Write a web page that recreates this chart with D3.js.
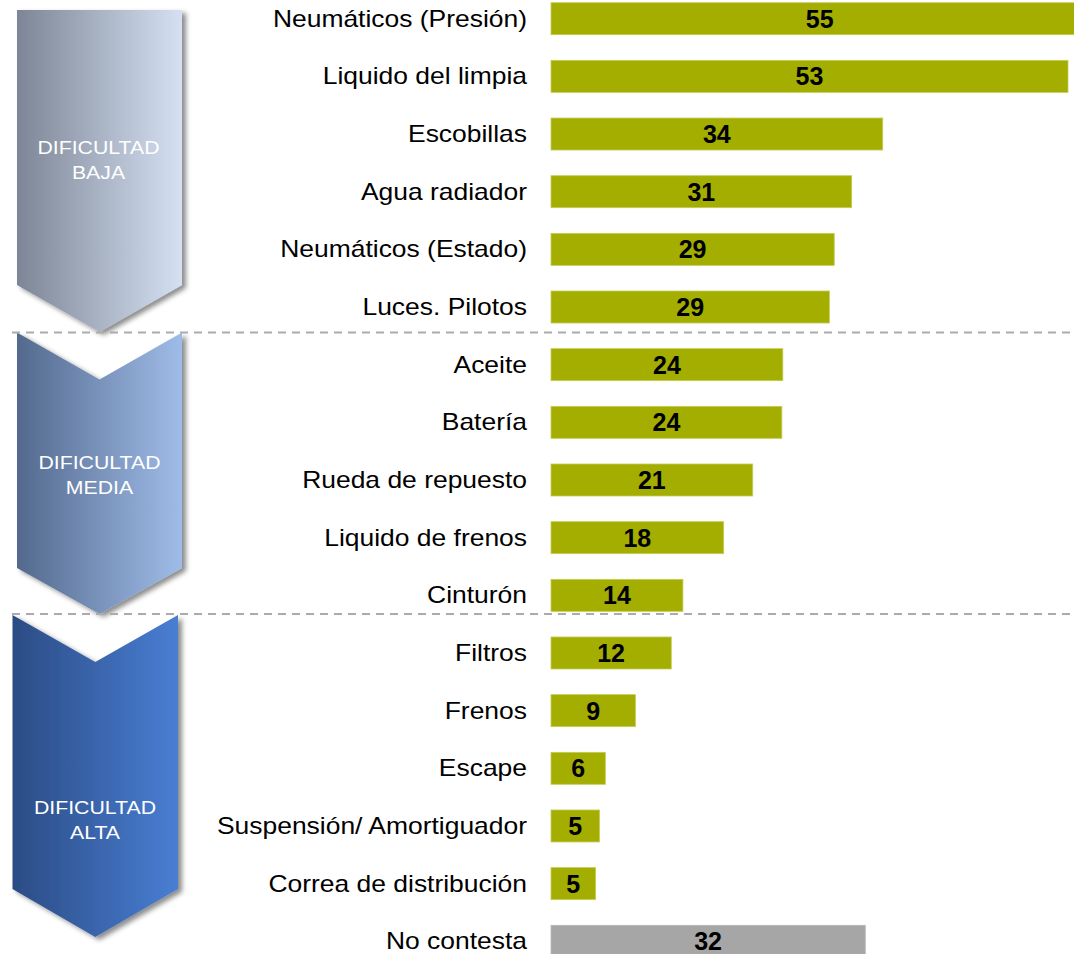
<!DOCTYPE html>
<html>
<head>
<meta charset="utf-8">
<script src="https://cdn.jsdelivr.net/npm/d3@7"></script>
<style>
  html, body { margin: 0; padding: 0; background: #fff; }
  svg { display: block; }
  text { font-family: Arial, "Liberation Sans", sans-serif; }
</style>
</head>
<body>
<svg id="chart" width="1074" height="954"></svg>
<script>
// ---------- data ----------
const categories = [
  "Neumáticos (Presión)", "Liquido del limpia", "Escobillas", "Agua radiador",
  "Neumáticos (Estado)", "Luces. Pilotos", "Aceite", "Batería",
  "Rueda de repuesto", "Liquido de frenos", "Cinturón", "Filtros",
  "Frenos", "Escape", "Suspensión/ Amortiguador", "Correa de distribución",
  "No contesta"
];
const values = [55.4, 53.3, 34.2, 31.0, 29.2, 28.7, 23.9, 23.8, 20.8, 17.8, 13.6, 12.4, 8.7, 5.6, 5.0, 4.6, 32.4];
const valueLabels = ["55","53","34","31","29","29","24","24","21","18","14","12","9","6","5","5","32"];
const noAnswer = "No contesta";
const groupLines1 = ["DIFICULTAD", "DIFICULTAD", "DIFICULTAD"];
const groupLines2 = ["BAJA", "MEDIA", "ALTA"];

// ---------- layout ----------
const W = 1074, H = 954;
const svg = d3.select("#chart");

const x = d3.scaleLinear().domain([0, 53.3]).range([551, 1068]);
const y = d3.scaleBand().domain(categories).range([2.7, 957.3]).paddingInner(0.445).paddingOuter(0);

const defs = svg.append("defs");
const gradColors = [["#7c8696", "#d5e0f2"], ["#53698d", "#9fbce8"], ["#2b4c84", "#497ed3"]];
gradColors.forEach((c, i) => {
  const g = defs.append("linearGradient").attr("id", "grad" + i)
    .attr("x1", "0%").attr("x2", "100%").attr("y1", "0%").attr("y2", "0%");
  g.append("stop").attr("offset", "0%").attr("stop-color", c[0]);
  g.append("stop").attr("offset", "100%").attr("stop-color", c[1]);
});
const f = defs.append("filter").attr("id", "shadow")
  .attr("x", "-20%").attr("y", "-10%").attr("width", "140%").attr("height", "130%");
f.append("feDropShadow").attr("dx", 4).attr("dy", 3).attr("stdDeviation", 2.5)
  .attr("flood-color", "#000").attr("flood-opacity", 0.45);

// chevrons (decoration geometry)
const chev = [
  { x0: 17, x1: 182, top: 10, notch: 0, side: 285, point: 332, tx: 98.5, ty: 147 },
  { x0: 17, x1: 182, top: 332.5, notch: 47, side: 568, point: 614, tx: 99.5, ty: 462 },
  { x0: 12.5, x1: 178, top: 615, notch: 47, side: 889, point: 937, tx: 95, ty: 807 }
];
chev.forEach((c, i) => {
  const cx = (c.x0 + c.x1) / 2;
  const p = [
    [c.x0, c.top], [cx, c.top + c.notch], [c.x1, c.top], [c.x1, c.side],
    [cx, c.point], [c.x0, c.side]
  ];
  svg.append("path")
    .attr("d", d3.line()(p) + "Z")
    .attr("fill", `url(#grad${i})`)
    .attr("filter", "url(#shadow)");
  const tg = svg.append("g").attr("transform", `translate(${c.tx},0)`);
  [groupLines1[i], groupLines2[i]].forEach((t, j) => {
    tg.append("text")
      .attr("transform", `translate(0,${c.ty + j * 25.5}) scale(1.12,1)`)
      .attr("text-anchor", "middle")
      .attr("dy", "0.35em")
      .attr("fill", "#fff")
      .attr("font-size", 19)
      .text(t);
  });
});

// dashed separators
[332.5, 614].forEach(yy => {
  svg.append("line")
    .attr("x1", 12).attr("x2", W).attr("y1", yy).attr("y2", yy)
    .attr("stroke", "#ababab").attr("stroke-width", 2)
    .attr("stroke-dasharray", "8,6");
});

// bars
const rows = categories.map((c, i) => ({ c, v: values[i], lab: valueLabels[i] }));
svg.append("g").selectAll("rect").data(rows).join("rect")
  .attr("x", x(0))
  .attr("y", d => y(d.c))
  .attr("width", d => x(d.v) - x(0))
  .attr("height", y.bandwidth())
  .attr("fill", d => d.c === noAnswer ? "#a6a6a6" : "#a3ae00")
  .attr("stroke", d => d.c === noAnswer ? "#b8b8b8" : "#c3cc5a")
  .attr("stroke-width", 0.8);

// category labels
svg.append("g").selectAll("text").data(rows).join("text")
  .attr("transform", d => `translate(527,${y(d.c) + y.bandwidth() / 2}) scale(1.15,1)`)
  .attr("text-anchor", "end")
  .attr("dy", "0.35em")
  .attr("font-size", 23)
  .attr("fill", "#000")
  .text(d => d.c);

// value labels
svg.append("g").selectAll("text").data(rows).join("text")
  .attr("x", d => (x(0) + x(d.v)) / 2)
  .attr("y", d => y(d.c) + y.bandwidth() / 2)
  .attr("text-anchor", "middle")
  .attr("dy", "0.36em")
  .attr("font-size", 25)
  .attr("font-weight", "bold")
  .attr("fill", "#000")
  .text(d => d.lab);
</script>
</body>
</html>
